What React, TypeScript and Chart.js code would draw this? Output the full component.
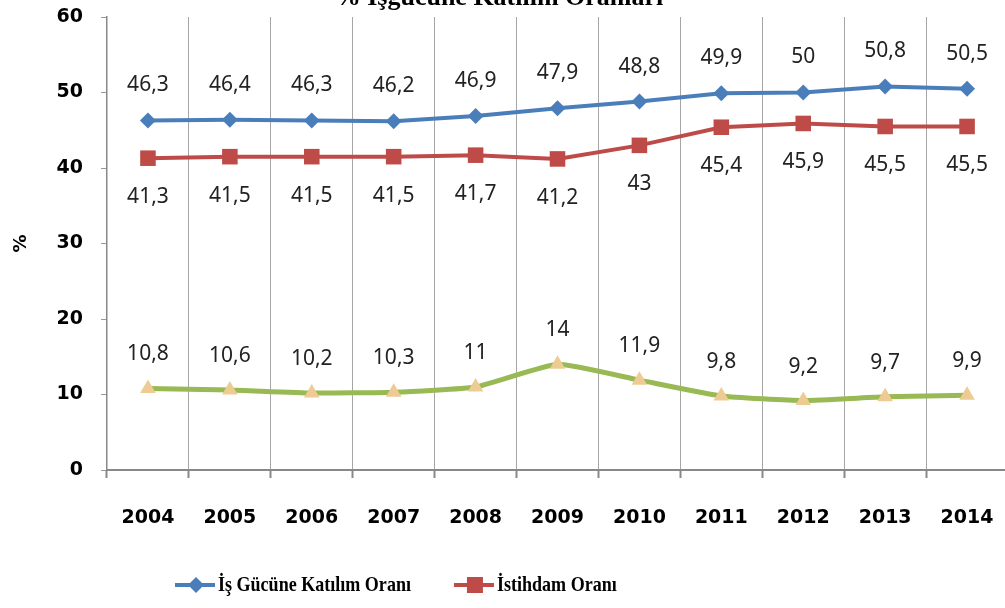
import React, { useEffect, useRef } from 'react';
import { Chart, registerables } from 'chart.js';

Chart.register(...registerables);

const years = ['2004', '2005', '2006', '2007', '2008', '2009', '2010', '2011', '2012', '2013', '2014'];
const participation = [46.3, 46.4, 46.3, 46.2, 46.9, 47.9, 48.8, 49.9, 50, 50.8, 50.5];
const employment = [41.3, 41.5, 41.5, 41.5, 41.7, 41.2, 43, 45.4, 45.9, 45.5, 45.5];
const unemployment = [10.8, 10.6, 10.2, 10.3, 11, 14, 11.9, 9.8, 9.2, 9.7, 9.9];
const seriesNames = ['İş Gücüne Katılım Oranı', 'İstihdam Oranı', 'İşsizlik Oranı'];
const chartTitle = '% İşgücüne Katılım Oranları';
const yAxisTitle = '%';
const yMin = 0;
const yMax = 60;
const yStep = 10;

const BLUE = '#4A7EBB';
const RED = '#BE4B48';
const GREEN = '#98B954';
const TAN = '#EDCB93';
const GRID = '#A6A6A6';

const labelOffsets = [-35, 39, -34];

function drawMarker(ctx: CanvasRenderingContext2D, style: string, x: number, y: number, r: number, color: string) {
  ctx.save();
  ctx.fillStyle = color;
  ctx.beginPath();
  if (style === 'rectRot') {
    ctx.moveTo(x, y - r);
    ctx.lineTo(x + r, y);
    ctx.lineTo(x, y + r);
    ctx.lineTo(x - r, y);
  } else if (style === 'rect') {
    ctx.rect(x - r, y - r, 2 * r, 2 * r);
  } else {
    ctx.moveTo(x, y - r);
    ctx.lineTo(x + r, y + r * 0.8);
    ctx.lineTo(x - r, y + r * 0.8);
  }
  ctx.closePath();
  ctx.fill();
  ctx.restore();
}

const dataLabelPlugin = {
  id: 'dataLabels',
  afterDatasetsDraw(chart: any) {
    const ctx: CanvasRenderingContext2D = chart.ctx;
    ctx.save();
    ctx.font = '21px "Noto Sans", sans-serif';
    ctx.fillStyle = '#222';
    ctx.textAlign = 'center';
    ctx.textBaseline = 'middle';
    chart.data.datasets.forEach((ds: any, i: number) => {
      const meta = chart.getDatasetMeta(i);
      meta.data.forEach((el: any, j: number) => {
        const txt = String(ds.data[j]).replace('.', ',');
        ctx.fillText(txt, el.x, el.y + labelOffsets[i]);
      });
    });
    ctx.restore();
  },
};

const decorPlugin = {
  id: 'decor',
  afterDraw(chart: any) {
    const ctx: CanvasRenderingContext2D = chart.ctx;
    ctx.save();
    // title (partly cut off at top)
    ctx.font = 'bold 26px "Liberation Serif", serif';
    ctx.fillStyle = '#000';
    ctx.textAlign = 'center';
    ctx.textBaseline = 'alphabetic';
    ctx.fillText(chartTitle, 499, 5);

    // legend (first row)
    const legendY = 585;
    const items = [
      { name: seriesNames[0], color: BLUE, style: 'rectRot', r: 8 },
      { name: seriesNames[1], color: RED, style: 'rect', r: 8 },
    ];
    const sx = 0.82;
    ctx.font = 'bold 22px "Liberation Serif", serif';
    ctx.textAlign = 'left';
    ctx.textBaseline = 'middle';
    let x = 175;
    items.forEach((it) => {
      ctx.strokeStyle = it.color;
      ctx.lineWidth = 4;
      ctx.beginPath();
      ctx.moveTo(x, legendY);
      ctx.lineTo(x + 40, legendY);
      ctx.stroke();
      drawMarker(ctx, it.style, x + 21, legendY, it.r, it.color);
      ctx.fillStyle = '#000';
      ctx.save();
      ctx.translate(x + 43, legendY);
      ctx.scale(sx, 1);
      ctx.fillText(it.name, 0, 0);
      ctx.restore();
      x += 43 + ctx.measureText(it.name).width * sx + 43;
    });
    ctx.restore();
  },
};

export default function App() {
  const ref = useRef<HTMLCanvasElement | null>(null);

  useEffect(() => {
    if (!ref.current) return;
    const chart = new Chart(ref.current, {
      type: 'line',
      data: {
        labels: years,
        datasets: [
          {
            label: seriesNames[0],
            data: participation,
            borderColor: BLUE,
            backgroundColor: BLUE,
            borderWidth: 4,
            pointStyle: 'rectRot',
            pointRadius: 8,
            pointBorderWidth: 0,
            tension: 0,
          },
          {
            label: seriesNames[1],
            data: employment,
            borderColor: RED,
            backgroundColor: RED,
            borderWidth: 4,
            pointStyle: 'rect',
            pointRadius: 11,
            pointBorderWidth: 0,
            tension: 0,
          },
          {
            label: seriesNames[2],
            data: unemployment,
            borderColor: GREEN,
            backgroundColor: TAN,
            borderWidth: 5,
            pointStyle: 'triangle',
            pointRadius: 9,
            pointBorderWidth: 0,
            tension: 0.15,
          },
        ],
      },
      options: {
        responsive: false,
        animation: false,
        layout: { padding: { top: 17, right: 0, bottom: 0, left: 0 } },
        plugins: {
          legend: { display: false },
          title: { display: false },
          tooltip: { enabled: false },
        },
        scales: {
          x: {
            offset: true,
            grid: {
              offset: true,
              drawOnChartArea: true,
              color: GRID,
              lineWidth: 1,
              tickLength: 8,
              tickColor: '#888',
              tickWidth: 2,
            },
            border: { color: '#888', width: 2 },
            ticks: {
              color: '#000',
              font: { family: '"DejaVu Sans", sans-serif', size: 19, weight: 'bold' },
              padding: 29,
              maxRotation: 0,
            },
            afterFit: (s: any) => {
              s.height = 138;
            },
          },
          y: {
            min: yMin,
            max: yMax,
            ticks: {
              stepSize: yStep,
              color: '#000',
              font: { family: '"DejaVu Sans", sans-serif', size: 19, weight: 'bold' },
              padding: 18,
            },
            grid: {
              drawOnChartArea: false,
              drawTicks: true,
              tickLength: 6,
              tickColor: '#999',
            },
            border: { color: '#888', width: 1.5 },
            title: {
              display: true,
              text: yAxisTitle,
              color: '#000',
              font: { family: '"DejaVu Sans", sans-serif', size: 18, weight: 'bold' },
              padding: { top: 11, bottom: 0 },
            },
            afterFit: (s: any) => {
              s.width = 107;
              s.paddingTop = 0;
              s.paddingBottom = 0;
            },
          },
        },
      },
      plugins: [dataLabelPlugin, decorPlugin],
    } as any);
    return () => chart.destroy();
  }, []);

  return (
    <div
      style={{
        position: 'absolute',
        left: 0,
        top: 0,
        width: 1005,
        height: 608,
        overflow: 'hidden',
        background: '#fff',
      }}
    >
      <canvas ref={ref} width={1023} height={608} style={{ display: 'block' }} />
    </div>
  );
}
